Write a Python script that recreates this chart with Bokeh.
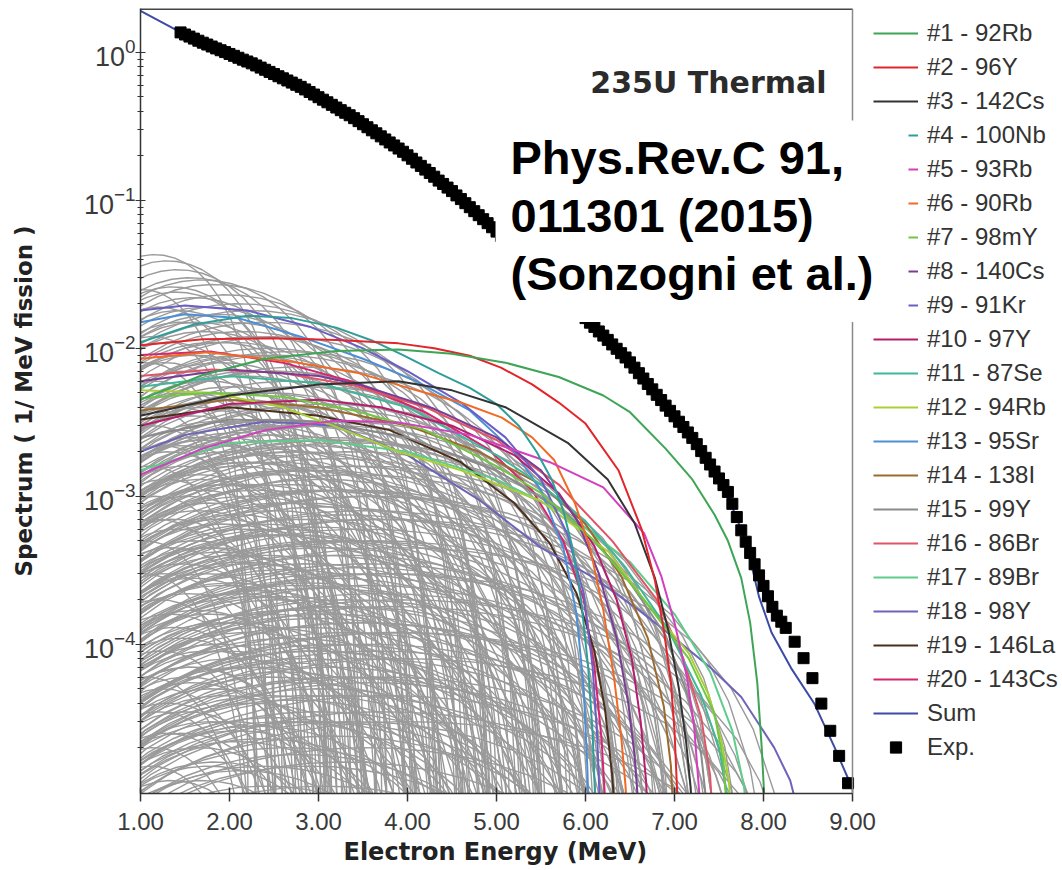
from bokeh.plotting import figure
from bokeh.models import (Range1d, FixedTicker, NumeralTickFormatter, LogTickFormatter,
                          Legend, LegendItem, Label, Span, Title)
from bokeh.embed import file_html
from bokeh.resources import INLINE

# ---------------- data ----------------
x_ticks = [1, 2, 3, 4, 5, 6, 7, 8, 9]
y_major = [1e-4, 1e-3, 1e-2, 1e-1, 1.0]

exp_energy_a = [1.45, 1.55, 1.65, 1.75, 1.85, 1.95, 2.05, 2.15, 2.25, 2.35, 2.45, 2.55, 2.65, 2.75,
                2.85, 2.95, 3.05, 3.15, 3.25, 3.35, 3.45, 3.55, 3.65, 3.75, 3.85, 3.95, 4.05, 4.15,
                4.25, 4.35, 4.45, 4.55, 4.65, 4.75, 4.85, 4.95, 5.05, 5.15, 5.25, 5.35, 5.45, 5.55,
                5.65, 5.75, 5.85, 5.95, 6.05, 6.15, 6.25, 6.35, 6.45, 6.55, 6.65, 6.75, 6.85, 6.95,
                7.05, 7.15, 7.25, 7.30, 7.35, 7.40, 7.45, 7.50, 7.55, 7.60, 7.65, 7.70, 7.75, 7.80,
                7.85, 7.90, 7.95, 8.00, 8.05, 8.10, 8.15, 8.20, 8.25, 8.35, 8.45, 8.55, 8.65, 8.75,
                8.85, 8.95]
exp_value_a = [1.365, 1.279, 1.199, 1.130, 1.064, 1.005, 0.948, 0.893, 0.843, 0.789, 0.738, 0.690,
               0.646, 0.604, 0.562, 0.519, 0.479, 0.442, 0.407, 0.376, 0.343, 0.312, 0.284, 0.258,
               0.235, 0.213, 0.191, 0.171, 0.153, 0.136, 0.122, 0.108, 0.0957, 0.0845, 0.0746,
               0.0658, 0.0575, 0.0502, 0.0440, 0.0384, 0.0336, 0.0293, 0.0256, 0.0224, 0.0196,
               0.0171, 0.0149, 0.0130, 0.0114, 0.00993, 0.00867, 0.00740, 0.00625, 0.00528,
               0.00447, 0.00378, 0.00319, 0.00270, 0.00225, 0.00202, 0.00182, 0.00164, 0.00147,
               0.00132, 0.00119, 0.00107, 0.000889, 0.000724, 0.000589, 0.000493, 0.000414,
               0.000347, 0.000292, 0.000248, 0.000211, 0.000179, 0.000156, 0.000142, 0.000129,
               0.000104, 8.05e-5, 5.90e-5, 3.97e-5, 2.60e-5, 1.76e-5, 1.15e-5]
exp_energy_b = [1.50, 1.60, 1.70, 1.80, 1.90, 2.00, 2.10, 2.20, 2.30, 2.40, 2.50, 2.60, 2.70, 2.80,
                2.90, 3.00, 3.10, 3.20, 3.30, 3.40, 3.50, 3.60, 3.70, 3.80, 3.90, 4.00, 4.10, 4.20,
                4.30, 4.40, 4.50, 4.60, 4.70, 4.80, 4.90, 5.00, 5.10, 5.20, 5.30, 5.40, 5.50, 5.60,
                5.70, 5.80, 5.90, 6.00, 6.10, 6.20, 6.30, 6.40, 6.50, 6.60, 6.70, 6.80, 6.90, 7.00,
                7.10, 7.20]
exp_value_b = [1.321, 1.239, 1.163, 1.096, 1.034, 0.976, 0.920, 0.868, 0.816, 0.763, 0.714, 0.668,
               0.625, 0.585, 0.540, 0.498, 0.460, 0.424, 0.391, 0.3594, 0.3270, 0.2975, 0.2707,
               0.2462, 0.2240, 0.2015, 0.1803, 0.1614, 0.1445, 0.1291, 0.1155, 0.1020, 0.0899,
               0.0794, 0.0701, 0.0615, 0.0537, 0.0470, 0.0410, 0.0359, 0.0313, 0.0274, 0.0239,
               0.0209, 0.0183, 0.0160, 0.01396, 0.01219, 0.01062, 0.00927, 0.00804, 0.00679,
               0.00574, 0.00485, 0.00410, 0.00347, 0.00294, 0.00248]

sum_energy = [1.0, 1.5, 2.0, 2.5, 3.0, 3.5, 4.0, 4.5, 5.0, 5.5, 6.0, 6.5, 7.0, 7.3, 7.6, 7.8,
              7.95, 8.09, 8.31, 8.57, 8.8, 8.96, 9.0]
sum_value = [1.905, 1.318, 0.977, 0.714, 0.501, 0.327, 0.1995, 0.1148, 0.0617, 0.0316, 0.01585,
             7.94e-3, 3.39e-3, 1.95e-3, 1.0e-3, 5.0e-4, 2.09e-4, 1.2e-4, 6.9e-5, 3.98e-5, 2.0e-5,
             1.2e-5, 1.05e-5]

nuclide_labels = ["#1 - 92Rb", "#2 - 96Y", "#3 - 142Cs", "#4 - 100Nb", "#5 - 93Rb", "#6 - 90Rb",
                  "#7 - 98mY", "#8 - 140Cs", "#9 - 91Kr", "#10 - 97Y", "#11 - 87Se", "#12 - 94Rb",
                  "#13 - 95Sr", "#14 - 138I", "#15 - 99Y", "#16 - 86Br", "#17 - 89Br",
                  "#18 - 98Y", "#19 - 146La", "#20 - 143Cs"]
nuclide_colors = ["#3da555", "#e2252b", "#333333", "#2f9e9b", "#d23fbf", "#f06a25", "#72c545",
                  "#7a3d96", "#6b5fc4", "#b81c6c", "#3fb79a", "#a9cf38", "#4b8fd6", "#9c6a2f",
                  "#8a8a8a", "#e05468", "#5fcc8c", "#6e64b9", "#4b2e1c", "#d5276f"]

c1_e = [1.0, 1.7, 2.4, 3.2, 3.9, 4.5, 5.1, 5.7, 6.2, 6.5, 6.9, 7.2, 7.45, 7.6, 7.75, 7.85, 7.93, 7.98, 8.01, 8.03]
c1_y = [4.5e-3, 6.6e-3, 8.5e-3, 9.6e-3, 9.8e-3, 9.2e-3, 8.0e-3, 6.4e-3, 4.8e-3, 3.7e-3, 2.1e-3, 1.3e-3, 7.5e-4, 5.0e-4, 2.8e-4, 1.4e-4, 5.5e-5, 2.0e-5, 9e-6, 3e-6]
c2_e = [1.0, 1.7, 2.5, 3.2, 3.9, 4.3, 4.7, 5.05, 5.4, 5.7, 6.0, 6.37, 6.63, 6.78, 6.88, 6.96, 7.0, 7.03, 7.05]
c2_y = [1.05e-2, 1.15e-2, 1.17e-2, 1.14e-2, 1.08e-2, 1.0e-2, 8.9e-3, 7.4e-3, 5.7e-3, 4.3e-3, 3.1e-3, 1.5e-3, 6.0e-4, 2.7e-4, 1.25e-4, 5.5e-5, 2.6e-5, 1.0e-5, 3e-6]
c3_e = [1.0, 2.0, 3.0, 3.9, 4.5, 5.1, 5.8, 6.25, 6.55, 6.78, 6.93, 7.05, 7.13, 7.18, 7.21, 7.23]
c3_y = [3.5e-3, 4.8e-3, 5.7e-3, 6.0e-3, 5.2e-3, 4.0e-3, 2.3e-3, 1.3e-3, 6.6e-4, 2.8e-4, 1.25e-4, 5.0e-5, 2.2e-5, 1.1e-5, 5e-6, 2e-6]
c4_e = [1.0, 1.6, 2.2, 2.7, 3.2, 3.6, 3.95, 4.35, 4.7, 5.0, 5.25, 5.45, 5.62, 5.75, 5.85, 5.95, 6.03, 6.08, 6.12]
c4_y = [1.1e-2, 1.45e-2, 1.66e-2, 1.6e-2, 1.38e-2, 1.13e-2, 9.0e-3, 6.8e-3, 5.4e-3, 4.2e-3, 3.0e-3, 2.0e-3, 1.3e-3, 8.0e-4, 4.6e-4, 2.0e-4, 7e-5, 2.5e-5, 6e-6]
c5_e = [1.0, 1.7, 2.4, 3.2, 3.9, 4.7, 5.6, 6.2, 6.66, 6.85, 7.0, 7.14, 7.22, 7.29]
c5_y = [1.4e-3, 2.1e-3, 2.8e-3, 3.25e-3, 3.15e-3, 2.6e-3, 1.7e-3, 1.15e-3, 5.6e-4, 2.9e-4, 1.4e-4, 6e-5, 2.8e-5, 8e-6]
c6_e = [1.0, 1.75, 2.7, 3.45, 4.1, 4.6, 5.06, 5.4, 5.65, 5.88, 6.05, 6.2, 6.32, 6.4, 6.45, 6.5]
c6_y = [8.5e-3, 9.4e-3, 8.1e-3, 6.8e-3, 5.2e-3, 4.3e-3, 3.4e-3, 2.5e-3, 1.75e-3, 9e-4, 4.5e-4, 1.7e-4, 6e-5, 2.4e-5, 1.1e-5, 3e-6]
c7_e = [1.0, 1.8, 2.6, 3.4, 4.2, 5.0, 5.5, 6.1, 6.63, 7.16, 7.45, 7.55, 7.6]
c7_y = [4.6e-3, 5.0e-3, 4.7e-3, 3.8e-3, 2.8e-3, 1.6e-3, 1.05e-3, 5.0e-4, 2.1e-4, 8.0e-5, 3.4e-5, 1.6e-5, 6e-6]
c8_e = [1.0, 2.0, 3.0, 3.5, 4.3, 5.0, 5.5, 5.9, 6.15, 6.35, 6.48, 6.55, 6.62]
c8_y = [6.0e-3, 7.2e-3, 6.5e-3, 5.6e-3, 3.9e-3, 2.5e-3, 1.5e-3, 7.0e-4, 3.0e-4, 1.1e-4, 4.0e-5, 1.8e-5, 5e-6]
c9_e = [1.0, 1.5, 2.2, 2.9, 3.5, 4.0, 4.6, 5.1, 5.5, 5.8, 5.98, 6.08, 6.13, 6.17]
c9_y = [1.8e-2, 1.95e-2, 1.8e-2, 1.4e-2, 1.0e-2, 7.0e-3, 4.3e-3, 2.5e-3, 1.3e-3, 5.5e-4, 2.2e-4, 7e-5, 2.5e-5, 6e-6]
c10_e = [1.0, 2.0, 3.0, 3.7, 4.5, 5.2, 5.7, 6.1, 6.35, 6.52, 6.62, 6.68, 6.72]
c10_y = [3.0e-3, 4.2e-3, 4.5e-3, 4.0e-3, 3.0e-3, 1.9e-3, 1.05e-3, 4.6e-4, 2.0e-4, 8.0e-5, 3.0e-5, 1.2e-5, 4e-6]
c11_e = [1.0, 2.0, 3.0, 4.0, 5.0, 5.5, 6.0, 6.45, 6.93, 7.3, 7.5, 7.6, 7.66]
c11_y = [5.5e-3, 6.5e-3, 5.8e-3, 4.0e-3, 1.9e-3, 1.2e-3, 6.8e-4, 3.3e-4, 1.25e-4, 4.5e-5, 2.0e-5, 9e-6, 4e-6]
c12_e = [1.0, 1.8, 2.6, 3.3, 3.9, 4.6, 5.5, 6.26, 6.63, 7.16, 7.38, 7.53, 7.61, 7.66]
c12_y = [5.2e-3, 5.0e-3, 4.0e-3, 2.8e-3, 2.0e-3, 1.5e-3, 9.3e-4, 4.2e-4, 2.1e-4, 8.7e-5, 4.6e-5, 2.2e-5, 1.2e-5, 5e-6]
c13_e = [1.0, 1.5, 2.1, 2.8, 3.5, 4.1, 4.7, 5.2, 5.5, 5.75, 5.9, 5.98, 6.02, 6.05]
c13_y = [1.5e-2, 1.7e-2, 1.6e-2, 1.2e-2, 8.5e-3, 6.0e-3, 3.8e-3, 2.0e-3, 1.1e-3, 4.5e-4, 1.6e-4, 5e-5, 1.5e-5, 4e-6]
c14_e = [1.0, 2.0, 3.0, 4.0, 4.8, 5.5, 6.0, 6.4, 6.7, 6.88, 6.96, 7.0]
c14_y = [3.8e-3, 4.5e-3, 4.0e-3, 3.0e-3, 2.0e-3, 1.2e-3, 6.5e-4, 2.9e-4, 1.1e-4, 3.8e-5, 1.5e-5, 5e-6]
c15_e = [1.0, 2.0, 3.0, 4.0, 5.0, 5.8, 6.4, 6.9, 7.15, 7.3, 7.4]
c15_y = [2.5e-3, 3.3e-3, 3.2e-3, 2.5e-3, 1.5e-3, 7.5e-4, 3.2e-4, 1.15e-4, 4.5e-5, 1.8e-5, 5e-6]
c16_e = [1.0, 1.8, 2.6, 3.4, 4.2, 5.0, 5.7, 6.3, 6.8, 7.1, 7.3, 7.4, 7.45]
c16_y = [6.5e-3, 7.2e-3, 6.8e-3, 5.6e-3, 4.0e-3, 2.4e-3, 1.2e-3, 5.0e-4, 2.0e-4, 8.0e-5, 3.2e-5, 1.3e-5, 4e-6]
c17_e = [1.0, 2.0, 3.0, 4.0, 5.0, 5.8, 6.5, 7.0, 7.4, 7.65, 7.78, 7.86]
c17_y = [1.5e-3, 2.3e-3, 2.4e-3, 2.0e-3, 1.3e-3, 7.5e-4, 3.6e-4, 1.6e-4, 6.5e-5, 2.6e-5, 1.1e-5, 4e-6]
c18_e = [1.0, 1.5, 2.4, 3.2, 4.0, 4.8, 5.5, 6.1, 6.6, 7.0, 7.4, 7.75, 8.12, 8.3, 8.4, 8.45]
c18_y = [2.0e-3, 2.6e-3, 3.2e-3, 3.0e-3, 1.9e-3, 9.5e-4, 4.5e-4, 2.8e-4, 1.7e-4, 1.1e-4, 7.0e-5, 4.4e-5, 2.0e-5, 1.2e-5, 7e-6, 4e-6]
c19_e = [1.0, 2.0, 3.0, 3.8, 4.6, 5.2, 5.6, 5.9, 6.1, 6.22, 6.3, 6.36]
c19_y = [3.3e-3, 4.0e-3, 3.5e-3, 2.8e-3, 1.7e-3, 9.0e-4, 4.8e-4, 2.2e-4, 9.0e-5, 3.6e-5, 1.3e-5, 4e-6]
c20_e = [1.0, 1.8, 2.6, 3.4, 4.2, 4.9, 5.4, 5.75, 5.98, 6.1, 6.18, 6.23]
c20_y = [9.0e-3, 9.5e-3, 8.0e-3, 5.9e-3, 3.7e-3, 2.1e-3, 1.1e-3, 5.0e-4, 2.0e-4, 7.0e-5, 2.3e-5, 7e-6]

curves_e = [c1_e, c2_e, c3_e, c4_e, c5_e, c6_e, c7_e, c8_e, c9_e, c10_e,
            c11_e, c12_e, c13_e, c14_e, c15_e, c16_e, c17_e, c18_e, c19_e, c20_e]
curves_y = [c1_y, c2_y, c3_y, c4_y, c5_y, c6_y, c7_y, c8_y, c9_y, c10_y,
            c11_y, c12_y, c13_y, c14_y, c15_y, c16_y, c17_y, c18_y, c19_y, c20_y]

# grey background: the other fission products, each given by its end-point energy
# and its peak height; common shape read as fraction of end point -> fraction of peak
shape_frac = [0.10, 0.15, 0.20, 0.25, 0.30, 0.35, 0.40, 0.45, 0.50, 0.55, 0.60, 0.65, 0.70,
              0.75, 0.80, 0.85, 0.90, 0.93, 0.96, 0.98, 0.99, 0.995, 0.998, 0.9995]
shape_rel = [0.288, 0.436, 0.581, 0.715, 0.829, 0.918, 0.976, 1.0, 0.990, 0.946, 0.871, 0.768,
             0.644, 0.506, 0.365, 0.229, 0.113, 0.0588, 0.0203, 0.00528, 0.00134, 0.000336,
             0.000038, 0.0000024]
gray_endpoint = [
    2.22, 2.31, 2.38, 2.27, 2.35, 2.42,
    2.52, 2.61, 2.55, 2.68, 2.58, 2.64, 2.71, 2.50,
    2.82, 2.95, 2.88, 3.02, 2.79, 2.91, 2.99, 2.85, 2.93,
    3.08, 3.17, 3.24, 3.12, 3.30, 3.21, 3.15, 3.27, 3.10, 3.33,
    3.38, 3.46, 3.52, 3.41, 3.58, 3.49, 3.55, 3.44, 3.60, 3.36,
    3.66, 3.74, 3.81, 3.70, 3.88, 3.77, 3.84, 3.92, 3.68, 3.79,
    3.98, 4.06, 4.13, 4.02, 4.19, 4.09, 4.16, 4.23, 4.00, 4.11,
    4.28, 4.36, 4.43, 4.31, 4.49, 4.39, 4.46, 4.53, 4.33, 4.41,
    4.58, 4.66, 4.73, 4.61, 4.79, 4.69, 4.76, 4.83, 4.63,
    4.88, 4.96, 5.03, 4.91, 5.09, 4.99, 5.06, 5.13, 4.93, 5.01,
    5.18, 5.26, 5.33, 5.21, 5.39, 5.29, 5.36, 5.43, 5.23,
    5.48, 5.56, 5.63, 5.51, 5.69, 5.59, 5.66, 5.73, 5.53, 5.61,
    5.78, 5.86, 5.93, 5.81, 5.99, 5.89, 5.96, 6.03, 5.83,
    6.08, 6.16, 6.23, 6.11, 6.29, 6.19, 6.26, 6.33, 6.13,
    6.38, 6.46, 6.53, 6.41, 6.59, 6.49, 6.56, 6.63,
    6.68, 6.76, 6.83, 6.71, 6.89, 6.79, 6.86, 6.93,
    6.98, 7.06, 7.13, 7.01, 7.19, 7.09, 7.16,
    7.28, 7.36, 7.43, 7.31, 7.49, 7.39,
    7.58, 7.66, 7.73, 7.61, 7.79, 7.69,
    7.88, 7.96, 8.03, 7.91, 8.09,
    8.18, 8.26, 8.33, 8.21,
    8.48, 8.56, 8.63, 8.70,
    2.45, 2.33, 2.57, 2.66, 2.74, 2.87, 2.97, 2.81,
    3.04, 3.14, 3.22, 3.35, 3.43, 3.50, 3.57, 3.19,
    3.63, 3.72, 3.86, 3.95, 4.04, 4.14, 4.21, 3.90,
    4.26, 4.38, 4.47, 4.55, 4.64, 4.71, 4.80, 4.52,
    4.86, 4.94, 5.04, 5.11, 5.20, 5.28, 5.37, 5.15,
    5.45, 5.54, 5.62, 5.71, 5.80, 5.88, 5.97, 5.67,
    6.06, 6.14, 6.21, 6.31, 6.36, 6.44, 6.52, 6.60,
    6.66, 6.74, 6.81, 6.95, 7.04, 7.11, 7.22, 7.30,
    7.42, 7.52, 7.64, 7.76, 7.95, 8.12, 8.38, 8.55,
    2.28, 2.48, 2.62, 2.77, 2.90, 3.06, 3.18, 3.29, 3.39, 3.47,
    3.54, 3.62, 3.71, 3.83, 3.93, 4.01, 4.08, 4.18, 4.24, 4.34,
    4.42, 4.51, 4.57, 4.68, 4.74, 4.84, 4.92, 5.00, 5.07, 5.17,
    5.24, 5.31, 5.41, 5.47, 5.58, 5.64, 5.76, 5.84, 5.91, 6.01,
    6.09, 6.18, 6.27, 6.34, 6.42, 6.50, 6.58, 6.67, 6.77, 6.87,
    6.97, 7.08, 7.18, 7.33, 7.47, 7.60, 7.72, 7.85]
gray_peak = [
    2.5e-2, 8e-3, 1.6e-3, 3e-4, 6e-5, 1.5e-5,
    4.3e-2, 1.9e-2, 6e-3, 2.2e-3, 7e-4, 2e-4, 5e-5, 2e-5,
    3.9e-2, 2.6e-2, 1.1e-2, 4e-3, 1.3e-3, 4.5e-4, 1.3e-4, 4e-5, 1.2e-5,
    3.4e-2, 1.5e-2, 7e-3, 2.8e-3, 1e-3, 3.5e-4, 1.1e-4, 3.5e-5, 1.8e-2, 6e-5,
    3.0e-2, 2.2e-2, 9e-3, 3.5e-3, 1.4e-3, 5e-4, 1.7e-4, 5.5e-5, 2e-5, 5e-3,
    2.9e-2, 1.3e-2, 6e-3, 2.4e-3, 9e-4, 3e-4, 9e-5, 3e-5, 1.2e-5, 1.9e-2,
    2.7e-2, 1.7e-2, 8e-3, 3.2e-3, 1.2e-3, 4.2e-4, 1.4e-4, 4.5e-5, 1.6e-5, 4.5e-3,
    2.3e-2, 1.1e-2, 5e-3, 2e-3, 7.5e-4, 2.6e-4, 8e-5, 2.6e-5, 1.5e-2, 3.2e-3,
    2.0e-2, 1.3e-2, 6.5e-3, 2.7e-3, 1e-3, 3.6e-4, 1.2e-4, 4e-5, 1.4e-5,
    1.8e-2, 9e-3, 4.2e-3, 1.7e-3, 6.5e-4, 2.3e-4, 7e-5, 2.3e-5, 1.2e-2, 3e-3,
    1.5e-2, 1e-2, 5e-3, 2.1e-3, 8e-4, 3e-4, 1e-4, 3.2e-5, 1.1e-5,
    1.2e-2, 7e-3, 3.3e-3, 1.4e-3, 5.5e-4, 2e-4, 6.5e-5, 2e-5, 9e-3, 2.4e-3,
    9.5e-3, 6e-3, 3e-3, 1.2e-3, 4.6e-4, 1.7e-4, 5.5e-5, 1.8e-5, 2e-3,
    7.5e-3, 4.5e-3, 2.2e-3, 9e-4, 3.5e-4, 1.3e-4, 4.5e-5, 1.5e-5, 1.5e-3,
    5.5e-3, 3.2e-3, 1.5e-3, 6.2e-4, 2.4e-4, 9e-5, 3e-5, 1.1e-5,
    4.2e-3, 2.4e-3, 1.1e-3, 4.5e-4, 1.8e-4, 7e-5, 2.4e-5, 1.8e-3,
    3.2e-3, 1.6e-3, 7.5e-4, 3e-4, 1.2e-4, 4.5e-5, 1.6e-5,
    2.3e-3, 1.1e-3, 5e-4, 2e-4, 8e-5, 3e-5,
    1.6e-3, 8e-4, 3.5e-4, 1.4e-4, 5.5e-5, 2e-5,
    1e-3, 5e-4, 2.2e-4, 9e-5, 3.5e-5,
    7e-4, 3e-4, 1.2e-4, 4.5e-5,
    4.5e-4, 2e-4, 8e-5, 3e-5,
    1.2e-2, 4e-3, 1e-3, 9e-5, 3e-4, 2e-3, 7e-4, 2.5e-5,
    2.4e-2, 5e-3, 1.6e-3, 2.2e-4, 7e-5, 2.5e-3, 8e-4, 2.5e-5,
    1.3e-3, 4.5e-4, 1.6e-4, 5e-5, 2.2e-3, 7e-4, 2.5e-4, 3.8e-3,
    9e-5, 1.2e-3, 4e-4, 1.4e-4, 4.5e-3, 1.7e-3, 6e-4, 2.2e-5,
    2.1e-4, 7e-3, 1.1e-3, 4e-4, 1.3e-4, 4.5e-5, 3.3e-3, 1.5e-5,
    1.7e-3, 6e-4, 2.1e-4, 7.5e-5, 4e-3, 1.5e-3, 5.5e-4, 3e-5,
    2.5e-4, 8e-5, 3e-5, 3e-3, 1.1e-3, 4e-4, 1.5e-4, 5e-5,
    2.5e-3, 8.5e-4, 2.8e-4, 1e-4, 2.4e-3, 5e-4, 1.8e-4, 6e-5,
    1.4e-3, 3.3e-4, 1e-3, 1e-4, 3e-4, 6e-5, 1.8e-4, 1.2e-4,
    5e-4, 3e-3, 3.5e-5, 8e-3, 1.6e-4, 6e-4, 2.2e-3, 9e-3, 7e-5, 2.8e-4,
    1.5e-2, 1.1e-3, 4e-3, 1.5e-5, 4.5e-4, 1.1e-2, 1e-4, 2.5e-3, 6.5e-4, 3e-5,
    5.5e-3, 1.6e-3, 2.2e-4, 7e-5, 9e-3, 3.5e-4, 1.2e-3, 2.8e-5, 5e-3, 1.9e-3,
    1.6e-4, 5.5e-4, 6e-5, 7e-3, 2.6e-3, 9e-4, 3.2e-4, 1.1e-4, 4.2e-5, 5.5e-3,
    2e-3, 7e-4, 2.6e-4, 9e-5, 4e-3, 3.5e-5, 1.3e-3, 5e-4, 1.6e-4, 3e-3,
    6e-5, 1.1e-3, 4e-4, 2e-3, 1.4e-4, 6e-4, 2.5e-4, 7e-4]

# ---------------- figure ----------------
# the frame runs to the right edge of the page so that the legend and the
# citation box (which overlap the plot's right border) are not clipped
x_end = 1.0 + 922.0 / 89.0
p = figure(frame_width=922, frame_height=785, x_range=Range1d(1.0, x_end),
           y_range=Range1d(9.8e-6, 1.98), y_axis_type="log",
           output_backend="svg", toolbar_location=None,
           min_border_left=140, min_border_right=0, min_border_top=8, min_border_bottom=20)
p.grid.visible = False
p.outline_line_color = None
p.background_fill_color = "white"
p.border_fill_color = "white"

gray_xs = [[q * f for f in shape_frac] for q in gray_endpoint]
gray_ys = [[a * r for r in shape_rel] for a in gray_peak]
p.multi_line(gray_xs, gray_ys, line_color="#9a9a9a", line_width=1.4)

renderers = [None] * 20
for i in reversed(range(20)):
    renderers[i] = p.line(curves_e[i], curves_y[i], line_color=nuclide_colors[i], line_width=2)

r_sum = p.line(sum_energy, sum_value, line_color="#3b4ba6", line_width=2)
r_exp = p.scatter(exp_energy_a + exp_energy_b, exp_value_a + exp_value_b,
                  marker="square", size=11, color="black")

# plot box: right border at 9.00 and top border
p.add_layout(Span(location=9.0, dimension="height", line_color="#8a8a8a", line_width=1.5))
top = p.y_range.end
p.segment(x0=[1.0], y0=[top], x1=[9.0], y1=[top], line_color="#444444", line_width=3)

# axes
xa = p.xaxis[0]
xa.bounds = (1.0, 9.0)
xa.ticker = FixedTicker(ticks=x_ticks)
xa.formatter = NumeralTickFormatter(format="0.00")
xa.major_label_text_font = "Liberation Sans"
xa.major_label_text_font_size = "24px"
xa.major_label_text_color = "#3a3a3a"
xa.major_label_standoff = 11
xa.major_tick_in = 6
xa.major_tick_out = 8
xa.major_tick_line_color = "#333333"
xa.major_tick_line_width = 1.5
xa.axis_line_color = "#333333"
xa.axis_line_width = 1.5

# x-axis title, centred under the 1..9 span of the axis
p.add_layout(Title(text="Electron Energy (MeV)", align="left", offset=203, standoff=6,
                   text_font="DejaVu Sans", text_font_style="bold", text_font_size="24px",
                   text_color="#222222"), "below")

y_minor = [m * 10.0 ** k for k in range(-6, 1) for m in range(2, 10)]
ya = p.yaxis[0]
ya.ticker = FixedTicker(ticks=y_major, minor_ticks=y_minor)
ya.formatter = LogTickFormatter()
ya.major_label_text_font = "Liberation Sans"
ya.major_label_text_font_size = "27px"
ya.major_label_text_color = "#3a3a3a"
ya.major_label_standoff = 0
ya.major_tick_in = 5
ya.major_tick_out = 5
ya.minor_tick_in = 3
ya.minor_tick_out = 3
ya.major_tick_line_color = "#333333"
ya.minor_tick_line_color = "#333333"
ya.axis_line_color = "#333333"
ya.axis_line_width = 1.5
ya.axis_label = "Spectrum ( 1/ MeV fission )"
ya.axis_label_text_font = "DejaVu Sans"
ya.axis_label_text_font_style = "bold"
ya.axis_label_text_font_size = "23px"
ya.axis_label_text_color = "#222222"
ya.axis_label_standoff = 44

# legend in three blocks; in the middle block (#4-#9) the citation box hides
# most of each legend line, so only its right end shows
legend_style = dict(glyph_height=28, label_height=28, spacing=6, padding=0, margin=0,
                    label_standoff=9, label_text_font="Liberation Sans",
                    label_text_font_size="24px", label_text_color="#333333",
                    border_line_color=None, background_fill_alpha=0)
items_top = [LegendItem(label=nuclide_labels[i], renderers=[renderers[i]]) for i in range(0, 3)]
items_mid = [LegendItem(label=nuclide_labels[i], renderers=[renderers[i]]) for i in range(3, 9)]
items_low = [LegendItem(label=nuclide_labels[i], renderers=[renderers[i]]) for i in range(9, 20)]
items_low.append(LegendItem(label="Sum", renderers=[r_sum]))
items_low.append(LegendItem(label="Exp.", renderers=[r_exp]))
p.add_layout(Legend(items=items_top, location=(733, 678), glyph_width=45, **legend_style))
p.add_layout(Legend(items=items_mid, location=(768, 474), glyph_width=10, **legend_style))
p.add_layout(Legend(items=items_low, location=(733, 32), glyph_width=45, **legend_style))

p.add_layout(Label(x=8.708, y=0.626, text="235U Thermal", text_font="DejaVu Sans",
                   text_font_style="bold", text_font_size="30px", text_color="#2b2b2b",
                   text_align="right", text_baseline="middle"))

p.add_layout(Label(x=4.989, y=0.3465, text="Phys.Rev.C 91,\n011301 (2015)\n(Sonzogni et al.)",
                   text_font="Liberation Sans", text_font_style="bold", text_font_size="47px",
                   text_line_height=1.1,
                   text_color="black", text_align="left", text_baseline="top",
                   background_fill_color="white", background_fill_alpha=1.0,
                   padding=dict(left=15, right=35, top=10, bottom=22), level="overlay"))

open("out.html", "w", encoding="utf-8").write(file_html(p, INLINE))
